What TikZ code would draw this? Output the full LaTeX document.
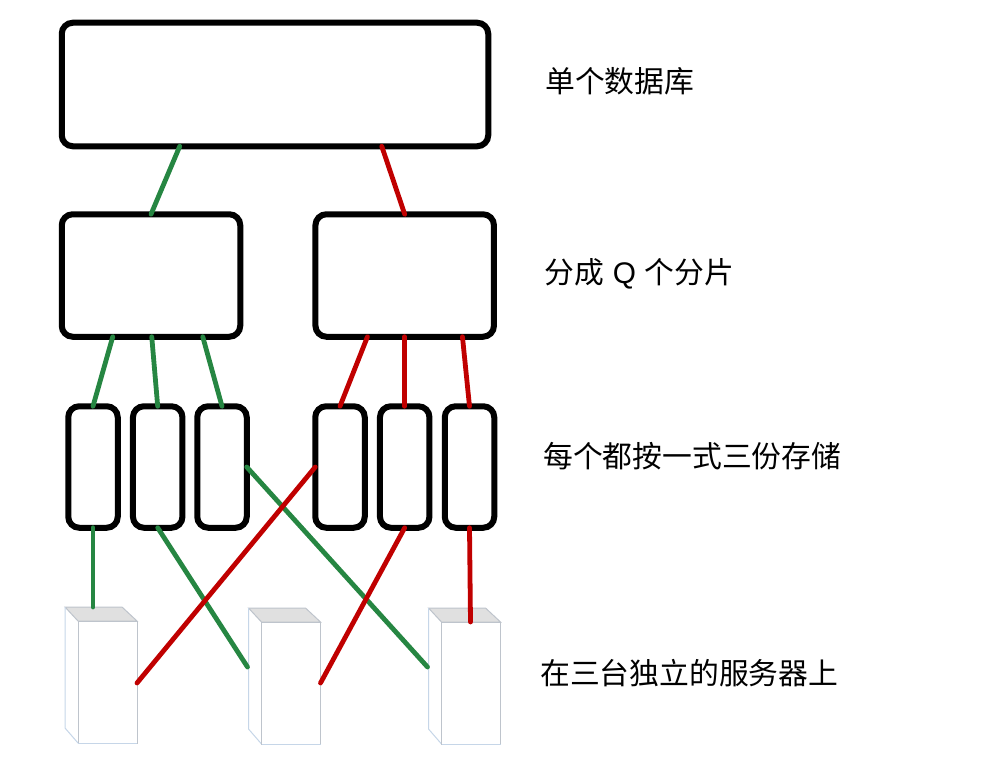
\documentclass[tikz,border=0pt]{standalone}
\usepackage{fontspec}
\newfontfamily\cjk{Noto Sans CJK SC}
\newfontfamily\lat{Liberation Sans}
\usetikzlibrary{calc}
\definecolor{grn}{RGB}{38,134,66}
\definecolor{rd}{RGB}{192,0,0}
\definecolor{edgeg}{RGB}{190,196,204}
\definecolor{edgeb}{RGB}{198,214,232}
\tikzset{
  box/.style={draw=black,line width=6pt,rounded corners=11pt,fill=white,outer sep=0pt,inner sep=0pt,minimum width=#1},
  box/.default=50pt,
  g/.style={draw=grn,line width=4.8pt,line cap=round},
  r/.style={draw=rd,line width=4.8pt,line cap=round},
  front/.style={draw=edgeg,line width=1pt,fill=white,outer sep=0pt,inner sep=0pt,minimum width=59pt,minimum height=122pt},
  lbl/.style={anchor=west,font=\cjk\fontsize{29.8}{34}\selectfont,inner sep=0pt,text=black}
}
\newcommand{\serverbox}[3]{%
  \fill[white] (#2-13,#3-14) -- (#2,#3) -- (#2,#3+122) -- (#2-13,#3+107) -- cycle;
  \draw[edgeg,line width=1pt,fill=black!12] (#2-13,#3-14) -- (#2+44,#3-14) -- (#2+59,#3) -- (#2,#3) -- cycle;
  \draw[edgeb,line width=1pt] (#2-13,#3-14) -- (#2-13,#3+107) -- (#2,#3+122) -- (#2+59,#3+122);
  \node[front,anchor=north west] (#1) at (#2,#3) {};
  \draw[edgeb,line width=1.2pt] (#2,#3+122.8) -- (#2+59,#3+122.8);
}
\begin{document}
\begin{tikzpicture}[x=1pt,y=-1pt]
\useasboundingbox (0,0) rectangle (990,765);
\node[box=426.5pt,minimum height=123.5pt] (db) at (275,84.5) {};
\node[box=178.5pt,minimum height=122.5pt] (sa) at (151,275.5) {};
\node[box=178.5pt,minimum height=122.5pt] (sb) at (404.7,275.5) {};
\foreach \n/\cx in {ga/93,gb/157.7,gc/222,ra/340,rb/404.7,rc/469.5}{
  \node[box=49.5pt,minimum height=121.5pt] (\n) at (\cx,467) {};
}
\serverbox{sva}{78}{621}
\serverbox{svb}{261.5}{622}
\serverbox{svc}{441.5}{622}
% upper connectors
\draw[g] ([xshift=118pt]db.south west) -- (sa.north);
\draw[r] ([xshift=320pt]db.south west) -- (sb.north);
\draw[g] ([xshift=51pt]sa.south west) -- (ga.north);
\draw[g] ([xshift=90pt]sa.south west) -- (gb.north);
\draw[g] ([xshift=141pt]sa.south west) -- (gc.north);
\draw[r] ([xshift=52pt]sb.south west) -- (ra.north);
\draw[r] (sb.south) -- (rb.north);
\draw[r] ([xshift=147pt]sb.south west) -- (rc.north);
% lower connectors
\draw[g] (ga.south) -- ([xshift=15pt,yshift=14pt]sva.north west);
\draw[g] (gb.south) -- ([xshift=-14pt,yshift=16pt]svb.west);
\draw[g] (gc.east) -- ([xshift=-14pt,yshift=16pt]svc.west);
\draw[r] (ra.west) -- ([yshift=-1pt]sva.east);
\draw[r] (rb.south) -- ([yshift=0pt]svb.east);
\draw[r] (rc.south) -- ([xshift=-0.5pt]svc.north);
\node[lbl] (t1) at (545,81) {单个数据库};
\node[lbl] (t2) at (544,274) {分成\hspace{9pt}{\lat Q}\hspace{9pt}个分片};
\node[lbl] (t3) at (543,456) {每个都按一式三份存储};
\node[lbl] (t4) at (540,673) {在三台独立的服务器上};
\end{tikzpicture}
\end{document}
